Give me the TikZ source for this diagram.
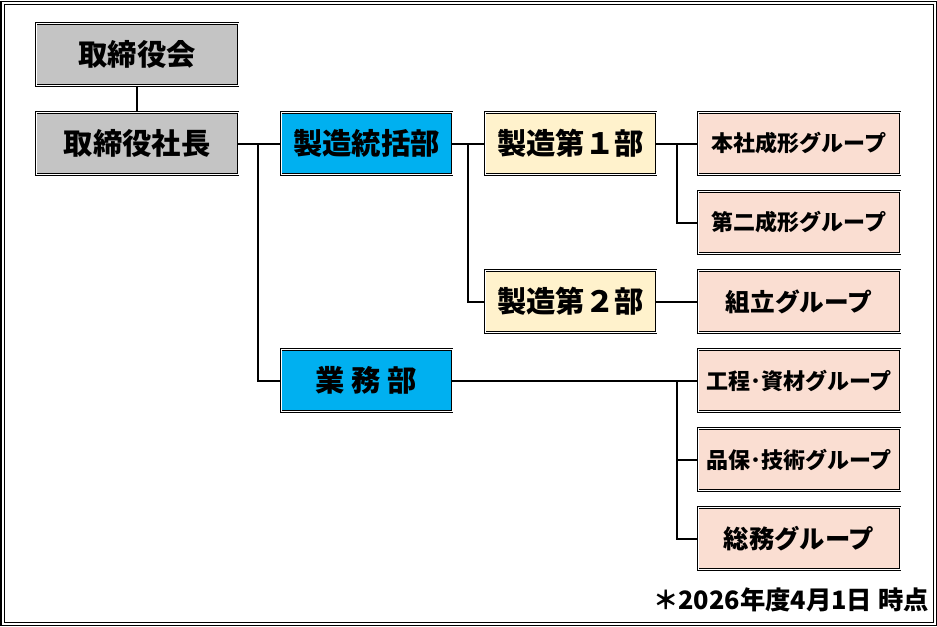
\documentclass[tikz,border=0pt]{standalone}
\usepackage{fontspec}
\setmainfont{Noto Sans CJK JP}
\usepackage{tikz}
\usetikzlibrary{shapes.geometric, arrows}
\definecolor{boardgray}{RGB}{196,196,196}
\definecolor{deptblue}{RGB}{0,176,240}
\definecolor{secyellow}{RGB}{255,242,204}
\definecolor{grouppink}{RGB}{250,222,210}
\tikzstyle{topbox} = [rectangle, minimum width=151.5pt, minimum height=46.5pt, inner sep=0pt, text centered, draw=black, double, double distance=0.75pt, line width=0.6pt, fill=boardgray, font=\fontsize{22}{26}\selectfont\bfseries]
\tikzstyle{deptbox} = [rectangle, minimum width=128.25pt, minimum height=46.5pt, inner sep=0pt, text centered, draw=black, double, double distance=0.75pt, line width=0.6pt, fill=deptblue, font=\fontsize{22}{26}\selectfont\bfseries]
\tikzstyle{secbox} = [rectangle, minimum width=128.25pt, minimum height=46.5pt, inner sep=0pt, text centered, draw=black, double, double distance=0.75pt, line width=0.6pt, fill=secyellow, font=\fontsize{22}{26}\selectfont\bfseries]
\tikzstyle{groupbox} = [rectangle, minimum width=151.5pt, minimum height=46.5pt, inner sep=0pt, text centered, draw=black, double, double distance=0.75pt, line width=0.6pt, fill=grouppink, font=\fontsize{16.5}{20}\selectfont\bfseries]
\tikzstyle{line} = [line width=1.5pt]
\begin{document}
\begin{tikzpicture}[x=0.75pt, y=0.75pt, node distance=59.25pt]
        \useasboundingbox (0,0) rectangle (937,-626);
        \draw [double, line width=0.75pt, double distance=1.5pt] (2.5,-2.5) rectangle (934.5,-623.5);

        \node (board) [topbox] at (137,-54.5) {取締役会};
        \node (president) [topbox, below of=board, yshift=-7.5pt] {取締役社長};
        \node (production) [deptbox, right of=president, xshift=112.9pt] {製造統括部};
        \node (business) [deptbox, below of=production, yshift=-118.5pt] {業 務 部};
        \node (section1) [secbox, right of=production, xshift=93.75pt] {製造第１部};
        \node (section2) [secbox, below of=section1, yshift=-59.25pt] {製造第２部};
        \node (molding1) [groupbox, right of=section1, xshift=112.1pt] {本社成形グループ};
        \node (molding2) [groupbox, below of=molding1] {第二成形グループ};
        \node (assembly) [groupbox, below of=molding2, font=\fontsize{18.5}{22}\selectfont\bfseries] {組立グループ};
        \node (material) [groupbox, below of=assembly] {工程･資材グループ};
        \node (quality) [groupbox, below of=material] {品保･技術グループ};
        \node (general) [groupbox, below of=quality, font=\fontsize{19}{22}\selectfont\bfseries] {総務グループ};
        \node (note) [anchor=east, inner sep=0pt, font=\fontsize{19}{22}\selectfont\bfseries] at (929,-600) {＊2026年度4月1日 時点};

        \draw [line] (board) -- (president);
        \draw [line] (president.east) -- (production.west);
        \draw [line] ([xshift=-17.25pt]production.west) |- (business.west);
        \draw [line] (production.east) -- (section1.west);
        \draw [line] ([xshift=-12.75pt]section1.west) |- (section2.west);
        \draw [line] (section1.east) -- (molding1.west);
        \draw [line] ([xshift=-15.75pt]molding1.west) |- (molding2.west);
        \draw [line] (section2.east) -- (assembly.west);
        \draw [line] (business.east) -- (material.west);
        \draw [line] ([xshift=-15.75pt]material.west) |- (quality.west);
        \draw [line] ([xshift=-15.75pt]material.west) |- (general.west);

      \end{tikzpicture}
\end{document}
